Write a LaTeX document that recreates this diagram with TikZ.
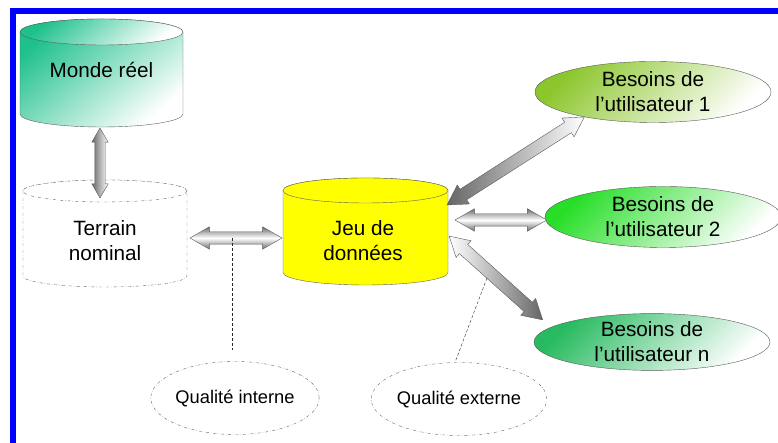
\documentclass[tikz,border=0pt]{standalone}
\usepackage{fontspec}
\setmainfont{Liberation Sans}
\usepackage{tikz}
\usetikzlibrary{arrows, shapes.geometric, shapes.arrows, calc}

\definecolor{bordblue}{RGB}{0,0,255}
\definecolor{mondegreen}{RGB}{30,192,140}
\definecolor{bone}{RGB}{140,198,45}
\definecolor{btwo}{RGB}{40,222,40}
\definecolor{bn}{RGB}{40,186,96}
\definecolor{jeuyellow}{RGB}{255,255,0}

\tikzset{
    txt/.style={align=center, font=\fontsize{20.7}{25}\selectfont},
    besoin/.style={ellipse, draw=gray!70!black, minimum width=236pt, minimum height=61pt, inner sep=0pt, align=center, font=\fontsize{20.7}{25}\selectfont, top color=#1, bottom color=white, shading angle=45},
    qualite/.style={ellipse, draw=gray!80!black, dash dot, minimum width=140pt, minimum height=73pt, inner sep=0pt, font=\fontsize{18.3}{22}\selectfont},
    fatarrow/.style={double arrow, draw=gray!70!black, double arrow head extend=5pt, double arrow tip angle=60, inner xsep=0pt, inner ysep=6pt, left color=gray!80!black, right color=white},
    flat/.style={top color=gray!85!black, bottom color=gray!85!black, middle color=white},
    link/.style={densely dashed, gray!30!black},
}

% cylinder: [style]{centre}{half width}{half height}{end radius}
\newcommand{\drum}[5][]{%
    \path[#1] ($(#2)+(-#3,#4-#5)$) -- ($(#2)+(-#3,-#4+#5)$)
        arc[start angle=180, end angle=360, x radius=#3, y radius=#5]
        -- ($(#2)+(#3,#4-#5)$)
        arc[start angle=0, end angle=180, x radius=#3, y radius=#5] -- cycle;
    \path[#1] ($(#2)+(0,#4-#5)$) ellipse[x radius=#3, y radius=#5];}

\newcommand{\bigarrow}[4][]{%
    \path let \p1=(#3), \p2=(#4), \n1={atan2(\y2-\y1,\x2-\x1)}, \n2={veclen(\x2-\x1,\y2-\y1)} in
        node[fatarrow, rotate=\n1, minimum height=\n2, #1] (#2) at ($(#3)!0.5!(#4)$) {};}

\begin{document}
\begin{tikzpicture}[x=1pt, y=1pt]
    \useasboundingbox (0,0) rectangle (778,443);
    \fill[bordblue] (10,429) rectangle (778,435);
    \fill[bordblue] (10,0) rectangle (16,435);

    \drum[draw=gray!75!black, top color=mondegreen, bottom color=white, shading angle=40]{101.5,370}{81.5}{54}{13}
    \drum[draw=gray!80!black, dash dot, fill=white]{105,209.5}{82}{53.5}{11}
    \drum[draw=gray!75!black, fill=jeuyellow]{365.5,211.5}{82.5}{53.5}{12.5}
    \node[txt] (monde) at (101.5,373) {Monde réel};
    \node[txt] (terrain) at (105,202) {Terrain\\nominal};
    \node[txt] (jeu) at (363,202.5) {Jeu de\\données};

    \node[besoin=bone] (b1) at (653,351) {Besoins de\\l’utilisateur 1};
    \node[besoin=btwo] (b2) at (663,226) {Besoins de\\l’utilisateur 2};
    \node[besoin=bn, minimum height=54pt] (bn) at (652,101) {Besoins de\\l’utilisateur n};

    \node[qualite] (qi) at (235,45) {Qualité interne};
    \node[qualite, minimum width=138pt] (qe) at (459,44) {Qualité externe};

    \bigarrow[inner ysep=5pt, double arrow head extend=3pt]{mt}{[shift={(-5pt,43pt)}]terrain.center}{[shift={(-1.5pt,-58pt)}]monde.center}
    \bigarrow[flat]{tj}{[shift={(85pt,3pt)}]terrain.center}{[shift={(-81pt,2.5pt)}]jeu.center}
    \bigarrow{j1}{[shift={(84pt,35.5pt)}]jeu.center}{b1.200}
    \bigarrow[flat]{j2}{[shift={(92pt,20.5pt)}]jeu.center}{[shift={(2pt,-3pt)}]b2.west}
    \bigarrow[left color=white, right color=gray!80!black]{jn}{[shift={(86pt,4.5pt)}]jeu.center}{[shift={(9pt,22pt)}]bn.west}

    \coordinate (qi-a) at ([xshift=-4pt]tj.center);
    \coordinate (qi-b) at ([shift={(-3pt,11.5pt)}]qi.north);
    \coordinate (qe-a) at (487,165);
    \coordinate (qe-b) at ([xshift=-4pt]qe.north);
    \draw[link] (qi-a) -- (qi-b);
    \draw[link] (qe-a) -- (qe-b);
\end{tikzpicture}
\end{document}
